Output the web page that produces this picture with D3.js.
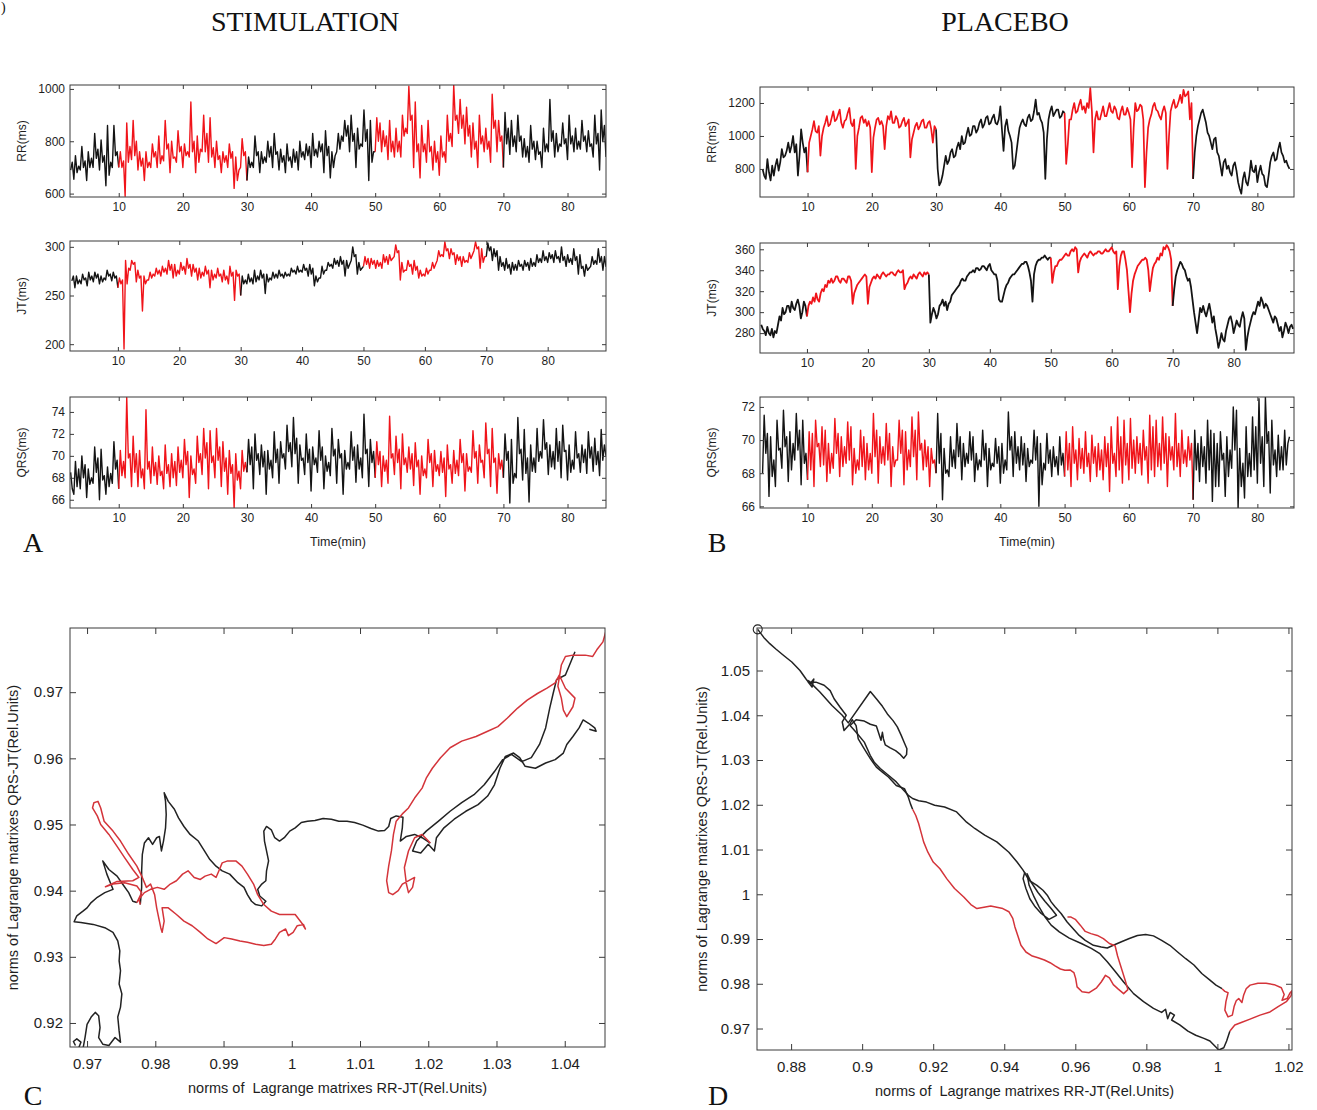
<!DOCTYPE html>
<html>
<head>
<meta charset="utf-8">
<script src="https://cdn.jsdelivr.net/npm/d3@7"></script>
<style>
  body { margin: 0; background: #fff; }
  svg { display: block; }
  text { white-space: pre; }
</style>
</head>
<body>
<script>
// ---------- data ----------
var redPeriods = [[10, 30], [50, 70]];   // minutes coloured red
var step = 0.25;                         // minutes between samples

// A: stimulation (samples from 2.5 min)
var stimRR = [690,720,
  655,745,680,705, 690,780,700,725, 650,760,700,735, 700,830,735,770, 690,805,720,745,
  630,860,670,720, 700,860,745,760, 700,760,700,725, 590,870,720,780, 730,880,745,800,
  690,760,705,735, 650,760,700,720, 700,790,740,760, 700,820,715,745, 725,880,770,790,
  680,800,735,740, 720,840,760,780, 700,790,745,760, 740,950,760,800, 680,820,720,770,
  760,900,760,830, 720,890,740,775, 700,800,730,745, 680,760,720,745, 700,790,735,760,
  620,740,650,690, 700,810,745,760, 650,740,700,720, 700,820,745,760, 680,760,715,740,
  720,800,740,780, 700,830,750,760, 690,770,720,745, 680,790,725,740, 700,770,720,760,
  690,800,740,760, 730,790,745,780, 700,830,745,770, 740,800,760,790, 680,840,745,780,
  660,760,700,745, 760,830,770,820, 800,880,820,860, 760,900,800,830, 700,850,770,790,
  780,920,800,845, 650,880,720,760, 760,890,800,870, 760,840,780,820, 730,880,760,800,
  740,850,760,800, 740,900,820,850, 830,1010,880,900, 700,950,760,790, 660,860,760,790,
  720,880,760,780, 690,800,720,760, 670,820,740,760, 720,900,800,830, 780,1015,880,900,
  830,960,850,900, 790,930,820,860, 740,870,770,800, 700,900,790,820, 760,850,770,800,
  720,980,850,880, 760,880,800,820, 700,910,790,850, 750,880,780,820, 760,900,800,820,
  740,810,740,780, 720,860,770,800, 730,800,750,760, 700,850,760,790, 760,960,800,840,
  740,830,760,790, 780,870,790,810, 730,900,790,820, 760,850,770,800, 770,880,800,820,
  760,840,780,790, 740,900,790,830, 690,920,800,860, 740];
var stimJT = [265,270,
  258,270,262,266, 262,272,266,268, 260,274,266,270, 264,274,268,272, 262,270,264,268,
  266,276,270,272, 265,274,268,270, 258,268,262,266, 195,286,262,278, 276,286,282,284,
  264,276,268,270, 234,270,262,266, 266,274,268,272, 270,278,272,276, 270,280,274,278,
  272,286,276,282, 268,282,270,276, 272,284,276,280, 272,288,278,282, 270,282,274,278,
  266,278,268,274, 270,280,272,276, 258,276,266,272, 268,278,270,272, 264,276,266,270,
  262,280,270,274, 245,276,270,272, 250,270,262,266, 262,272,264,268, 262,276,264,270,
  266,276,268,272, 252,272,264,268, 266,274,268,272, 268,276,270,272, 268,274,270,272,
  270,278,274,276, 272,280,274,276, 274,282,276,278, 270,282,272,278, 260,270,264,268,
  268,280,272,276, 276,284,280,282, 278,288,282,286, 280,290,282,286, 270,286,278,282,
  286,300,290,292, 272,284,276,278, 280,290,282,288, 278,288,282,286, 278,286,280,284,
  278,292,284,290, 282,292,286,288, 290,302,294,296, 266,284,274,276, 276,286,280,282,
  272,286,276,280, 268,276,270,272, 270,278,272,276, 276,284,278,282, 286,296,290,292,
  290,305,296,298, 288,298,292,294, 282,292,286,290, 280,290,284,286, 284,294,288,292,
  296,305,298,300, 278,298,284,290, 290,304,296,300, 286,298,290,296, 276,290,280,284,
  276,288,278,282, 272,284,276,282, 276,286,280,282, 276,286,280,284, 276,288,280,284,
  280,292,284,288, 284,296,286,290, 284,294,288,292, 284,296,288,290, 284,300,286,290,
  280,292,284,288, 282,298,286,290, 272,292,278,280, 270,282,276,278, 280,290,282,286,
  282,298,284,290, 276,290,280,284];
var stimQRS = [68.5,67,
  66.5,69.5,67.2,68.8, 67,70,68,69.2, 66.2,68.8,67.4,68, 67.5,70.8,68.5,69.8, 66,70.6,67.8,68.2,
  66.5,69,67.2,68.4, 67.5,71.3,68.8,69.6, 67,70.5,68.2,69.5, 68,75.3,69.8,70.2, 67.2,71.8,68.5,70.2,
  67.2,70.5,68,68.8, 67,74.2,68.8,69.5, 67.5,70.8,68.2,69.4, 67.4,70,68.2,68.6, 67,71,68.4,69.2,
  67.2,70.2,68,69.5, 67.3,70.8,68.5,69.6, 68,71.5,69.2,70.4, 66.2,70,68.3,68.8, 67.5,71.8,69.4,70.2,
  68.3,72.5,69.8,71.2, 67,72.3,69.4,70, 68,72.5,69.6,70.8, 67.2,71.3,68.6,69.8, 66.5,70.5,68.4,69.2,
  65.3,70.2,67.8,68.6, 67,70.5,68.6,69.4, 68.5,71.5,69.2,70.8, 67,72,69.6,70.2, 68.3,71,69,70.4,
  66.5,70.5,68.8,69.6, 68,72.2,69.4,70.6, 67.5,71.3,69.8,70.2, 68.8,72.8,70.4,71.2, 69,73.5,70.2,71.6,
  67.5,71,69.6,69.8, 68.3,72,69.4,70.6, 66.8,70.8,69.2,69.8, 68.5,72.3,69.6,70.8, 67,70,68.6,69.4,
  68.2,72.5,70,70.6, 67.5,71.5,69.8,70.2, 66.5,70.5,68.8,69.4, 68.8,72.2,69.6,70.8, 67.6,71,68.8,69.8,
  68,73.8,70.2,70.6, 67.2,71.5,69.4,70.4, 68,71.3,69.2,70.4, 67.2,70,68.6,69.6, 67.5,73.6,69.8,70.2,
  68.3,71.8,69.4,70.6, 67,72,69.2,69.8, 68.5,70.8,68.8,70.2, 67.3,71.2,69,69.6, 66.5,70,68.2,68.8,
  68,71.5,69.4,70.2, 67.2,70.5,68.6,69.2, 68.2,70.4,68.5,69.8, 66.3,71,68.8,69.2, 67.5,70.5,68.4,69.6,
  68.2,71.5,69.4,70.2, 66.8,70.2,68.6,69, 68.5,72.3,69.8,70.4, 67.5,71,69.4,69.6, 68,73,70.2,70.6,
  67.2,72.5,69.4,69.8, 66.6,70.2,68.8,69.6, 68,72,69.6,70.4, 65.7,71.5,67.5,68.4, 68,73.5,70.2,70.6,
  67.8,72.4,68.4,69.8, 65.8,71,68.6,69.8, 68.5,72.5,69.5,70.4, 69.8,73.3,70.6,71.2, 68.3,71,69,70.4,
  68.8,72.5,69.5,71.3, 68,72.8,70.4,70.5, 67.8,71,68.5,69.6, 68.8,72.2,69.8,70.2, 68.5,71,69.4,70.6,
  68.4,72.2,69.8,70.8, 68.6,71.6,69.2,70.4, 68.2,72.4,69.6,71, 70];

// B: placebo (RR and QRS from 3 min, JT from 2.5 min)
var placRR = [800,760,740,860, 780,730,820,760, 820,860,790,840, 920,870,880,910, 960,900,940,1000,
  900,950,760,880, 1040,960,900,930, 780,960,1000,1040, 1090,1030,1020,1060, 880,1000,1050,1080,
  1120,1060,1070,1110, 1150,1090,1100,1130, 1160,1080,1050,1090, 1100,1140,1170,1080, 1060,1100,800,1000,
  1050,1110,1120,1080, 1100,1060,1090,1050, 780,990,1050,1100, 1110,1070,1090,1060, 920,1060,1120,1100,
  1150,1080,1080,1120, 1100,1050,1060,1090, 1110,1060,1080,1100, 870,980,1020,1060, 1080,1040,1060,1090,
  1100,1050,1050,1080, 1090,1040,960,1060, 1040,800,700,720, 760,820,880,830, 850,900,920,870,
  880,930,960,920, 1000,950,960,1010, 1050,1000,1010,1060, 1060,1020,1040,1080, 1100,1050,1070,1110,
  1120,1070,1080,1110, 1130,1080,1070,1100, 1180,1040,910,1060, 1100,1030,1000,960, 800,820,900,980,
  1050,1080,1100,1070, 1060,1110,1130,1090, 1100,1150,1220,1130, 1140,1100,1080,1020, 740,980,1100,1150,
  1180,1120,1140,1160, 1160,1110,1120,1150, 1140,830,950,1100, 1100,1160,1200,1140, 1150,1190,1220,1160,
  1180,1140,1200,1170, 1290,1150,900,1100, 1150,1100,1100,1140, 1180,1120,1120,1160, 1200,1150,1140,1180,
  1160,1110,1100,1150, 1180,1130,1130,1170, 1140,1100,810,1050, 1200,1150,1160,1190, 1180,1100,690,900,
  1050,1100,1130,1180, 1200,1160,1150,1120, 1100,1150,1180,1140, 800,1000,1150,1190, 1220,1170,1180,1210,
  1250,1200,1280,1240, 1250,1270,1100,1200, 740,900,1000,1060, 1100,1140,1160,1120, 1080,1020,1000,960,
  920,980,990,900, 880,820,760,840, 860,800,820,780, 760,820,840,790, 720,680,650,740,
  780,720,700,760, 850,790,780,820, 720,780,820,770, 760,700,690,760, 840,880,900,850,
  860,920,960,900, 880,840,850,820, 800];
var placJT = [288,284,
  282,278,286,280, 278,284,276,282, 280,288,296,292, 304,298,300,306, 306,300,310,304,
  302,308,312,306, 294,300,310,306, 296,306,310,308, 314,310,318,312, 310,318,322,320,
  326,324,330,328, 332,328,330,334, 334,330,328,332, 332,330,328,334, 334,330,308,318,
  322,326,328,330, 332,334,336,334, 308,324,328,332, 334,332,336,334, 332,336,338,336,
  334,336,336,338, 338,336,335,338, 340,338,338,340, 322,326,328,332, 334,332,336,334,
  332,336,338,336, 334,338,336,338, 336,290,298,304, 300,294,298,306, 308,312,306,310,
  302,308,310,316, 318,320,322,324, 326,330,332,330, 330,334,336,338, 338,340,338,342,
  342,340,341,344, 344,342,340,344, 346,340,338,336, 336,330,312,310, 310,316,322,326,
  328,332,334,336, 336,338,340,342, 344,346,346,348, 348,344,338,330, 310,336,344,348,
  350,350,352,352, 354,352,350,352, 352,328,338,344, 344,348,350,350, 352,354,356,354,
  354,358,360,358, 362,360,338,348, 352,354,356,354, 352,356,358,356, 354,356,356,358,
  358,356,356,358, 360,358,358,360, 362,358,356,358, 322,344,354,358, 358,350,340,320,
  300,318,330,336, 340,344,346,348, 350,350,352,350, 340,320,332,342, 346,348,352,350,
  356,354,362,360, 364,362,358,350, 306,322,334,340, 344,348,346,342, 340,334,330,332,
  324,312,300,290, 280,292,304,300, 306,300,296,302, 308,300,290,296, 284,276,266,272,
  280,274,272,282, 288,294,296,290, 280,286,292,288, 286,294,300,294, 264,276,284,290,
  296,300,298,304, 310,306,314,310, 304,308,306,302, 298,294,290,296, 294,288,282,286,
  276,282,290,286, 280,286,288,284];
var placQRS = [68,71.5,69.2,70.4, 66.6,70.2,67.8,68.8, 67.2,71.2,69.4,69.5, 68.3,71.8,69.6,70.2, 67.5,70.5,68.2,69.8,
  68.8,71.6,69.4,70.6, 67.3,71.2,68.6,69.2, 67.6,70.5,68.2,70.4, 67.2,71.2,69.6,69.8, 68.4,70.8,68.5,70.6,
  67.5,69.8,68,69.2, 68.3,71.3,69.2,70.4, 67.8,70.2,68.4,69.6, 68.6,71.1,68.8,70.8, 67.3,69.5,68,68.8,
  68.2,70.6,68.4,70.2, 67.6,69.8,68.2,69.2, 68,71.6,69,70.6, 67.4,70.2,68.6,69.6, 68.5,71,68.8,70.4,
  67.2,69.6,68.4,68.8, 68.8,71.2,69.2,70.6, 67.3,70.5,68.2,69.4, 68.4,71.4,69,70.6, 67.6,71.7,69.4,69.8,
  68.2,70,68.4,69.6, 67.2,69.5,68.6,68.8, 68,71.6,68.6,70.4, 66.4,69.5,68,68.2, 67.8,70.2,68.4,69.4,
  68.3,71,69,70.2, 67.6,69.8,68.4,69.2, 68.6,70.5,68.8,70.2, 67.5,69.2,68.2,68.8, 68.4,70.6,68.8,69.8,
  67.2,69.5,68.2,68.6, 68.4,70.1,68.6,69.6, 67.4,69.8,68,68.8, 68.2,71.7,69.4,70.2, 67.8,70.5,68.6,69.6,
  68.2,70.2,68.5,69.8, 67.5,69.5,68.4,68.8, 68.6,70.6,68.8,70.2, 66,69.8,67.3,68.6, 68.2,70.4,68.6,69.4,
  67.8,69.6,68.4,69, 67.9,70.2,68.5,69.2, 67.8,70.5,68.2,69.8, 67.2,70.8,68.6,69.4, 67.6,70.1,68.3,69.5,
  68,70.5,68.4,69.2, 67.5,70.3,68.6,69.6, 67.8,69.8,68.2,69.4, 67.6,70.2,68.4,69.8, 66.9,70.8,68.6,69.2,
  67.8,71.4,68.2,70.2, 67.4,71.2,68.5,69.8, 67.6,71.3,68.3,70, 68,70.2,68.6,69.8, 67.9,70.6,68.8,69.6,
  67.4,71.5,68.2,70.8, 67.8,71.2,68.4,69.8, 68.2,71.4,68.6,70.4, 67.2,70.2,68.8,69.6, 68.2,71.6,68.4,69.8,
  67.8,70.6,68.6,69.4, 68.4,70.2,68.8,69.8, 66.4,70.6,68.2,69.8, 67.5,70.2,68.4,69.6, 67.4,71.2,68.2,70.6,
  66.3,70.4,67.2,69.8, 67.2,70.5,68.8,69.2, 66.6,70.2,67.8,69.4, 68.3,72,69.4,71.8, 65.9,69.5,67.2,68.6,
  66.5,70.8,67.8,69.2, 67.8,71.4,68.2,70.8, 67.4,72.5,68.6,70.2, 67.2,72.6,69.8,70.5, 66.8,71.2,68.5,69.4,
  67.8,70.3,68.2,69.6, 68.2,70.6,68.5,69.8, 70.2];

var seriesStart = { stimRR: 2.5, stimJT: 2.5, stimQRS: 2.5, placRR: 3, placJT: 2.5, placQRS: 3 };

// tick values
var timeTicks = [10, 20, 30, 40, 50, 60, 70, 80];
var stimRRTicks = [600, 800, 1000], stimJTTicks = [200, 250, 300], stimQRSTicks = [66, 68, 70, 72, 74];
var placRRTicks = [800, 1000, 1200], placJTTicks = [280, 300, 320, 340, 360], placQRSTicks = [66, 68, 70, 72];
var cXTicks = [0.97, 0.98, 0.99, 1, 1.01, 1.02, 1.03, 1.04], cYTicks = [0.92, 0.93, 0.94, 0.95, 0.96, 0.97];
var dXTicks = [0.88, 0.9, 0.92, 0.94, 0.96, 0.98, 1, 1.02], dYTicks = [0.97, 0.98, 0.99, 1, 1.01, 1.02, 1.03, 1.04, 1.05];

// C: stimulation trajectory [RR-JT norm, QRS-JT norm]
var cBlack1 = [[0.9683,0.9166],[0.9680,0.9172],[0.9685,0.9176],[0.9691,0.9171],[0.9688,0.9163],[0.9694,0.9161],[0.9697,0.9178],[0.9700,0.9198],[0.9706,0.9209],[0.9712,0.9216],[0.9717,0.9211],[0.9719,0.9193],[0.9717,0.9178],[0.9723,0.9168],[0.9732,0.9166],[0.9741,0.9178],[0.9749,0.9171],[0.9747,0.9188],[0.9745,0.9209],[0.9749,0.9224],[0.9751,0.9244],[0.9747,0.9259],[0.9749,0.9279],[0.9747,0.9294],[0.9748,0.9309],[0.9745,0.9324],[0.9738,0.9337],[0.9726,0.9344],[0.9709,0.9349],[0.9691,0.9352],[0.9681,0.9353],[0.9685,0.9362],[0.9694,0.9369],[0.9700,0.9374],[0.9706,0.9382],[0.9715,0.9390],[0.9726,0.9397],[0.9738,0.9402],[0.9729,0.9425],[0.9723,0.9445],[0.9732,0.9432],[0.9744,0.9422],[0.9752,0.9410],[0.9761,0.9397],[0.9767,0.9384],[0.9773,0.9382]];
var cRed1 = [[0.9773,0.9382],[0.9780,0.9397],[0.9773,0.9407],[0.9755,0.9412],[0.9738,0.9410],[0.9727,0.9406],[0.9744,0.9414],[0.9767,0.9415],[0.9776,0.9420],[0.9767,0.9432],[0.9755,0.9450],[0.9744,0.9467],[0.9732,0.9485],[0.9720,0.9500],[0.9715,0.9513],[0.9708,0.9525],[0.9710,0.9533],[0.9716,0.9535],[0.9720,0.9525],[0.9725,0.9505],[0.9738,0.9490],[0.9749,0.9475],[0.9761,0.9455],[0.9773,0.9437],[0.9781,0.9420],[0.9787,0.9405],[0.9793,0.9410],[0.9799,0.9394],[0.9802,0.9374],[0.9805,0.9359],[0.9808,0.9344],[0.9810,0.9337],[0.9813,0.9354],[0.9810,0.9374],[0.9819,0.9374],[0.9831,0.9364],[0.9842,0.9354],[0.9854,0.9347],[0.9866,0.9337],[0.9877,0.9327],[0.9889,0.9320],[0.9901,0.9329],[0.9912,0.9327],[0.9924,0.9324],[0.9935,0.9322],[0.9947,0.9319],[0.9959,0.9317],[0.9970,0.9319],[0.9976,0.9327],[0.9982,0.9337],[0.9991,0.9342],[0.9995,0.9332],[1.0002,0.9337],[1.0008,0.9347],[1.0017,0.9349],[1.0020,0.9342],[1.0014,0.9352],[1.0005,0.9364],[0.9994,0.9364],[0.9982,0.9364],[0.9970,0.9369],[0.9959,0.9379],[0.9950,0.9394],[0.9944,0.9410],[0.9935,0.9425],[0.9927,0.9437],[0.9918,0.9445],[0.9906,0.9445],[0.9898,0.9442],[0.9894,0.9432],[0.9889,0.9420],[0.9882,0.9425],[0.9873,0.9422],[0.9866,0.9417],[0.9857,0.9420],[0.9848,0.9430],[0.9840,0.9425],[0.9831,0.9415],[0.9822,0.9410],[0.9813,0.9402],[0.9803,0.9405],[0.9793,0.9402],[0.9784,0.9397],[0.9776,0.9387],[0.9778,0.9379]];
var cBlack2 = [[0.9778,0.9379],[0.9780,0.9405],[0.9780,0.9430],[0.9781,0.9455],[0.9784,0.9472],[0.9790,0.9480],[0.9796,0.9470],[0.9802,0.9480],[0.9806,0.9482],[0.9809,0.9460],[0.9812,0.9475],[0.9815,0.9495],[0.9816,0.9515],[0.9815,0.9535],[0.9813,0.9548],[0.9819,0.9535],[0.9828,0.9523],[0.9834,0.9510],[0.9842,0.9497],[0.9851,0.9485],[0.9863,0.9475],[0.9872,0.9460],[0.9880,0.9447],[0.9889,0.9437],[0.9898,0.9430],[0.9909,0.9425],[0.9921,0.9412],[0.9930,0.9405],[0.9935,0.9394],[0.9941,0.9384],[0.9947,0.9379],[0.9956,0.9377],[0.9962,0.9384],[0.9953,0.9392],[0.9950,0.9402],[0.9956,0.9410],[0.9962,0.9415],[0.9963,0.9430],[0.9966,0.9445],[0.9963,0.9460],[0.9960,0.9475],[0.9959,0.9490],[0.9963,0.9497],[0.9970,0.9492],[0.9975,0.9480],[0.9982,0.9475],[0.9989,0.9480],[0.9997,0.9490],[1.0005,0.9495],[1.0014,0.9503],[1.0023,0.9505],[1.0034,0.9506],[1.0046,0.9509],[1.0058,0.9508],[1.0069,0.9505],[1.0081,0.9505],[1.0092,0.9503],[1.0104,0.9499],[1.0116,0.9494],[1.0127,0.9490],[1.0136,0.9491],[1.0142,0.9497],[1.0145,0.9509],[1.0153,0.9513],[1.0163,0.9511],[1.0162,0.9495],[1.0159,0.9475],[1.0168,0.9482],[1.0180,0.9485],[1.0191,0.9480],[1.0203,0.9472]];
var cRed2 = [[1.0203,0.9472],[1.0191,0.9485],[1.0180,0.9480],[1.0171,0.9460],[1.0165,0.9435],[1.0168,0.9410],[1.0171,0.9397],[1.0177,0.9405],[1.0180,0.9420],[1.0162,0.9410],[1.0156,0.9400],[1.0148,0.9394],[1.0142,0.9397],[1.0139,0.9415],[1.0142,0.9437],[1.0146,0.9460],[1.0149,0.9485],[1.0153,0.9505],[1.0162,0.9516],[1.0171,0.9525],[1.0180,0.9540],[1.0191,0.9555],[1.0197,0.9570],[1.0206,0.9585],[1.0218,0.9601],[1.0232,0.9616],[1.0249,0.9626],[1.0270,0.9633],[1.0287,0.9641],[1.0302,0.9648],[1.0316,0.9661],[1.0331,0.9676],[1.0345,0.9688],[1.0360,0.9698],[1.0374,0.9706],[1.0386,0.9714],[1.0392,0.9726],[1.0401,0.9706],[1.0415,0.9691],[1.0412,0.9678],[1.0403,0.9663],[1.0398,0.9673],[1.0395,0.9691],[1.0390,0.9709],[1.0395,0.9741],[1.0401,0.9754],[1.0412,0.9756],[1.0430,0.9756],[1.0441,0.9754],[1.0447,0.9764],[1.0456,0.9776],[1.0460,0.9791]];
var cBlack3 = [[1.0415,0.9761],[1.0409,0.9746],[1.0401,0.9726],[1.0388,0.9719],[1.0383,0.9698],[1.0378,0.9676],[1.0372,0.9646],[1.0363,0.9621],[1.0351,0.9601],[1.0337,0.9595],[1.0322,0.9606],[1.0309,0.9598],[1.0297,0.9580],[1.0282,0.9560],[1.0267,0.9545],[1.0249,0.9533],[1.0232,0.9520],[1.0215,0.9505],[1.0197,0.9490],[1.0183,0.9475],[1.0177,0.9460],[1.0189,0.9457],[1.0200,0.9470],[1.0209,0.9460],[1.0212,0.9480],[1.0223,0.9495],[1.0238,0.9508],[1.0255,0.9520],[1.0273,0.9530],[1.0287,0.9543],[1.0297,0.9560],[1.0305,0.9585],[1.0313,0.9603],[1.0325,0.9608],[1.0334,0.9601],[1.0342,0.9588],[1.0357,0.9585],[1.0372,0.9593],[1.0386,0.9598],[1.0398,0.9608],[1.0403,0.9621],[1.0412,0.9633],[1.0421,0.9646],[1.0427,0.9658],[1.0435,0.9653],[1.0444,0.9646],[1.0446,0.9641],[1.0436,0.9644]];

// D: placebo trajectory
var dBlack1 = [[0.8706,1.0592],[0.8723,1.0574],[0.8740,1.0560],[0.8757,1.0548],[0.8780,1.0533],[0.8802,1.0519],[0.8825,1.0500],[0.8842,1.0481],[0.8853,1.0470],[0.8864,1.0481],[0.8859,1.0463],[0.8848,1.0474],[0.8870,1.0474],[0.8893,1.0467],[0.8910,1.0455],[0.8921,1.0437],[0.8938,1.0418],[0.8955,1.0400],[0.8944,1.0385],[0.8949,1.0366],[0.8966,1.0381],[0.8972,1.0390],[0.8983,1.0377],[0.8989,1.0347],[0.9006,1.0325],[0.9023,1.0303],[0.9040,1.0284],[0.9057,1.0273],[0.9074,1.0262],[0.9096,1.0243],[0.9119,1.0236],[0.9130,1.0217],[0.9136,1.0202],[0.9142,1.0190]];
var dBlack2 = [[0.8848,1.0478],[0.8881,1.0452],[0.8915,1.0422],[0.8944,1.0400],[0.8961,1.0383],[0.9023,1.0453],[0.9040,1.0437],[0.9057,1.0420],[0.9071,1.0403],[0.9087,1.0388],[0.9099,1.0374],[0.9110,1.0355],[0.9119,1.0338],[0.9126,1.0325],[0.9125,1.0312],[0.9117,1.0304],[0.9108,1.0312],[0.9094,1.0321],[0.9079,1.0327],[0.9065,1.0334],[0.9060,1.0347],[0.9057,1.0362],[0.9053,1.0344],[0.9040,1.0376],[0.9023,1.0380],[0.9006,1.0387],[0.8983,1.0390],[0.8966,1.0377],[0.8983,1.0362],[0.9006,1.0340],[0.9023,1.0310],[0.9034,1.0295],[0.9051,1.0281],[0.9074,1.0266],[0.9096,1.0251],[0.9113,1.0236],[0.9130,1.0221],[0.9142,1.0214],[0.9159,1.0209],[0.9181,1.0206],[0.9204,1.0199],[0.9232,1.0195],[0.9266,1.0184],[0.9294,1.0161],[0.9317,1.0147],[0.9345,1.0132],[0.9379,1.0117],[0.9413,1.0094],[0.9436,1.0072],[0.9453,1.0054],[0.9470,1.0031],[0.9492,1.0020],[0.9509,1.0009],[0.9521,0.9998],[0.9532,0.9983],[0.9543,0.9972],[0.9560,0.9957],[0.9577,0.9938],[0.9594,0.9923],[0.9611,0.9908],[0.9628,0.9897],[0.9651,0.9886],[0.9673,0.9882],[0.9690,0.9880],[0.9707,0.9886],[0.9730,0.9894],[0.9752,0.9901],[0.9775,0.9908],[0.9798,0.9910],[0.9820,0.9907],[0.9843,0.9897],[0.9866,0.9886],[0.9888,0.9871],[0.9911,0.9856],[0.9934,0.9842],[0.9956,0.9823],[0.9979,0.9808],[0.9996,0.9797],[1.0013,0.9789]];
var dBlack3 = [[0.9458,1.0050],[0.9453,1.0035],[0.9461,1.0013],[0.9472,0.9990],[0.9487,0.9972],[0.9504,0.9957],[0.9526,0.9944],[0.9547,0.9953],[0.9532,0.9968],[0.9515,0.9984],[0.9495,1.0004],[0.9475,1.0028],[0.9464,1.0046],[0.9470,1.0020],[0.9484,0.9994],[0.9498,0.9972],[0.9515,0.9949],[0.9532,0.9931],[0.9555,0.9916],[0.9583,0.9902],[0.9617,0.9890],[0.9645,0.9879],[0.9668,0.9868],[0.9690,0.9849],[0.9713,0.9827],[0.9736,0.9804],[0.9764,0.9778],[0.9792,0.9760],[0.9820,0.9745],[0.9843,0.9736],[0.9854,0.9743],[0.9860,0.9722],[0.9867,0.9736],[0.9879,0.9730],[0.9871,0.9719],[0.9894,0.9708],[0.9917,0.9694],[0.9939,0.9685],[0.9962,0.9678],[0.9979,0.9672],[0.9990,0.9663],[1.0004,0.9652],[1.0018,0.9657],[1.0026,0.9672],[1.0035,0.9694]];
var dRed1 = [[0.9142,1.0190],[0.9151,1.0176],[0.9159,1.0158],[0.9167,1.0135],[0.9173,1.0117],[0.9185,1.0094],[0.9200,1.0072],[0.9219,1.0057],[0.9238,1.0035],[0.9260,1.0013],[0.9286,0.9994],[0.9306,0.9977],[0.9323,0.9968],[0.9343,0.9971],[0.9362,0.9974],[0.9379,0.9971],[0.9396,0.9968],[0.9413,0.9961],[0.9424,0.9946],[0.9430,0.9927],[0.9438,0.9908],[0.9447,0.9886],[0.9461,0.9871],[0.9479,0.9862],[0.9495,0.9858],[0.9513,0.9853],[0.9529,0.9847],[0.9543,0.9840],[0.9558,0.9833],[0.9571,0.9830],[0.9585,0.9831],[0.9596,0.9825],[0.9601,0.9812],[0.9605,0.9793],[0.9619,0.9782],[0.9639,0.9780],[0.9660,0.9791],[0.9673,0.9804],[0.9685,0.9819],[0.9696,0.9813],[0.9707,0.9798],[0.9721,0.9788],[0.9736,0.9778],[0.9748,0.9787],[0.9741,0.9806],[0.9730,0.9834],[0.9719,0.9862],[0.9712,0.9885],[0.9696,0.9890],[0.9679,0.9901],[0.9662,0.9908],[0.9644,0.9912],[0.9628,0.9917],[0.9614,0.9931],[0.9600,0.9944],[0.9588,0.9949],[0.9578,0.9949]];
var dRed2 = [[1.0013,0.9789],[1.0021,0.9783],[1.0030,0.9780],[1.0024,0.9760],[1.0021,0.9741],[1.0030,0.9726],[1.0042,0.9730],[1.0047,0.9749],[1.0053,0.9762],[1.0060,0.9767],[1.0069,0.9758],[1.0074,0.9775],[1.0081,0.9789],[1.0092,0.9797],[1.0114,0.9801],[1.0137,0.9801],[1.0160,0.9798],[1.0180,0.9791],[1.0188,0.9776],[1.0182,0.9763],[1.0196,0.9767],[1.0205,0.9780],[1.0212,0.9786],[1.0207,0.9773],[1.0194,0.9760],[1.0171,0.9749],[1.0148,0.9737],[1.0120,0.9730],[1.0092,0.9721],[1.0069,0.9714],[1.0049,0.9708],[1.0037,0.9696],[1.0035,0.9694]];

// ---------- drawing ----------
var RED_TS = '#f0141a', RED_TR = '#d4343a', INK = '#141414', TRAJ_INK = '#222', AXIS = '#3a3a3a';
var sansFont = '"Liberation Sans", Arial, sans-serif';
var serifFont = '"Liberation Serif", "Times New Roman", serif';

var svg = d3.select('body').append('svg')
    .attr('width', 1317)
    .attr('height', 1110);

var clipCount = 0;
function fmt(d) { return String(+d.toFixed(2)); }

function panel(o) {
    var g = svg.append('g').attr('transform', 'translate(' + o.x + ',' + o.y + ')');
    var xs = d3.scaleLinear().domain(o.xd).range([0, o.w]);
    var ys = d3.scaleLinear().domain(o.yd).range([o.h, 0]);
    var id = 'clip' + (clipCount++);
    g.append('clipPath').attr('id', id).append('rect').attr('width', o.w).attr('height', o.h);
    var plot = g.append('g').attr('clip-path', 'url(#' + id + ')');

    var L = o.tick, P = o.pad, PX = o.padX || o.pad;
    var axes = [
        g.append('g').attr('transform', 'translate(0,' + o.h + ')')
            .call(d3.axisBottom(xs).tickValues(o.xt).tickSizeInner(-L).tickSizeOuter(0).tickPadding(PX).tickFormat(fmt)),
        g.append('g')
            .call(d3.axisTop(xs).tickValues(o.xt).tickSizeInner(-L).tickSizeOuter(0).tickFormat('')),
        g.append('g')
            .call(d3.axisLeft(ys).tickValues(o.yt).tickSizeInner(-L).tickSizeOuter(0).tickPadding(P).tickFormat(fmt)),
        g.append('g').attr('transform', 'translate(' + o.w + ',0)')
            .call(d3.axisRight(ys).tickValues(o.yt).tickSizeInner(-L).tickSizeOuter(0).tickFormat(''))
    ];
    axes.forEach(function (a) {
        a.select('.domain').remove();
        a.selectAll('line').attr('stroke', AXIS);
        a.selectAll('text').attr('font-family', sansFont).attr('font-size', o.font).attr('fill', '#1e1e1e');
    });
    g.append('rect').attr('width', o.w).attr('height', o.h)
        .attr('fill', 'none').attr('stroke', AXIS).attr('stroke-width', 1);
    return { g: g, plot: plot, xs: xs, ys: ys };
}

// split a sampled series into black / red runs that share their end points
function colouredRuns(vals, t0) {
    var runs = [], cur = null;
    for (var i = 0; i < vals.length - 1; i++) {
        var ta = t0 + i * step, tb = t0 + (i + 1) * step, mid = (ta + tb) / 2;
        var red = redPeriods.some(function (p) { return mid > p[0] && mid < p[1]; });
        if (!cur || cur.red !== red) { cur = { red: red, pts: [[ta, vals[i]]] }; runs.push(cur); }
        cur.pts.push([tb, vals[i + 1]]);
    }
    return runs;
}

function timeSeries(o, vals, t0, ylabel, withTimeLabel) {
    var p = panel(o);
    var line = d3.line().x(function (d) { return p.xs(d[0]); }).y(function (d) { return p.ys(d[1]); });
    p.plot.selectAll('path.run').data(colouredRuns(vals, t0)).enter().append('path')
        .attr('class', 'run')
        .attr('d', function (r) { return line(r.pts); })
        .attr('fill', 'none')
        .attr('stroke', function (r) { return r.red ? RED_TS : INK; })
        .attr('stroke-width', o.lw || 1.4)
        .attr('stroke-linejoin', 'round');
    p.g.append('text')
        .attr('transform', 'translate(' + (-44) + ',' + (o.h / 2) + ') rotate(-90)')
        .attr('text-anchor', 'middle')
        .attr('font-family', sansFont).attr('font-size', 12).attr('fill', '#1e1e1e')
        .text(ylabel);
    if (withTimeLabel) {
        p.g.append('text')
            .attr('x', o.w / 2).attr('y', o.h + 38)
            .attr('text-anchor', 'middle')
            .attr('font-family', sansFont).attr('font-size', 12.5).attr('fill', '#1e1e1e')
            .text('Time(min)');
    }
}

function trajectory(o, blacks, reds, marker) {
    var p = panel(o);
    var line = d3.line().x(function (d) { return p.xs(d[0]); }).y(function (d) { return p.ys(d[1]); });
    blacks.forEach(function (b) {
        p.plot.append('path').attr('d', line(b)).attr('fill', 'none')
            .attr('stroke', TRAJ_INK).attr('stroke-width', 1.5).attr('stroke-linejoin', 'round');
    });
    reds.forEach(function (r) {
        p.plot.append('path').attr('d', line(r)).attr('fill', 'none')
            .attr('stroke', RED_TR).attr('stroke-width', 1.5).attr('stroke-linejoin', 'round');
    });
    if (marker) {
        p.g.append('circle').attr('cx', p.xs(marker[0])).attr('cy', p.ys(marker[1])).attr('r', 4.5)
            .attr('fill', 'none').attr('stroke', TRAJ_INK).attr('stroke-width', 1.1);
    }
    p.g.append('text')
        .attr('x', o.w / 2).attr('y', o.h + o.titleDy)
        .attr('text-anchor', 'middle')
        .attr('font-family', sansFont).attr('font-size', 14.5).attr('fill', '#1e1e1e')
        .text('norms of  Lagrange matrixes RR-JT(Rel.Units)');
    p.g.append('text')
        .attr('transform', 'translate(' + o.ylabX + ',' + (o.h / 2) + ') rotate(-90)')
        .attr('text-anchor', 'middle')
        .attr('font-family', sansFont).attr('font-size', 14.5).attr('fill', '#1e1e1e')
        .text('norms of Lagrange matrixes QRS-JT(Rel.Units)');
}

var small = { tick: 4, pad: 5, font: 12 };
function opts(extra) { return Object.assign({}, small, extra); }

// A: stimulation
timeSeries(opts({ x: 70, y: 85, w: 536, h: 112, xd: [2.4, 86], yd: [587, 1015], xt: timeTicks, yt: stimRRTicks }),
    stimRR, seriesStart.stimRR, 'RR(ms)');
timeSeries(opts({ x: 70, y: 241, w: 536, h: 110, xd: [2.2, 89.5], yd: [193, 306], xt: timeTicks, yt: stimJTTicks }),
    stimJT, seriesStart.stimJT, 'JT(ms)');
timeSeries(opts({ x: 70, y: 397, w: 536, h: 111, xd: [2.4, 86], yd: [65.25, 75.36], xt: timeTicks, yt: stimQRSTicks }),
    stimQRS, seriesStart.stimQRS, 'QRS(ms)', true);

// B: placebo
timeSeries(opts({ x: 760, y: 87, w: 534, h: 110, xd: [2.6, 85.7], yd: [630, 1297], xt: timeTicks, yt: placRRTicks, lw: 1.7 }),
    placRR, seriesStart.placRR, 'RR(ms)');
timeSeries(opts({ x: 760, y: 243, w: 534, h: 110, xd: [2.3, 89.9], yd: [261, 366], xt: timeTicks, yt: placJTTicks, lw: 1.8 }),
    placJT, seriesStart.placJT, 'JT(ms)');
timeSeries(opts({ x: 760, y: 397, w: 534, h: 111, xd: [2.6, 85.7], yd: [65.9, 72.6], xt: timeTicks, yt: placQRSTicks }),
    placQRS, seriesStart.placQRS, 'QRS(ms)', true);

// C and D
trajectory({ x: 70, y: 628, w: 535, h: 419, xd: [0.9675, 1.0459], yd: [0.91637, 0.9797],
             xt: cXTicks, yt: cYTicks, tick: 6, pad: 7, padX: 11, font: 15, ylabX: -52, titleDy: 46 },
    [cBlack1, cBlack2, cBlack3], [cRed1, cRed2]);
trajectory({ x: 757, y: 628, w: 535, h: 422, xd: [0.8704, 1.021], yd: [0.9652, 1.0595],
             xt: dXTicks, yt: dYTicks, tick: 6, pad: 7, padX: 11, font: 15, ylabX: -50, titleDy: 46 },
    [dBlack1, dBlack2, dBlack3], [dRed1, dRed2], dBlack1[0]);

// titles and panel letters
function serifText(x, y, size, s) {
    svg.append('text').attr('x', x).attr('y', y).attr('text-anchor', 'middle')
        .attr('font-family', serifFont).attr('font-size', size).attr('fill', '#111').text(s);
}
serifText(305, 31, 28, 'STIMULATION');
serifText(1005, 31, 28, 'PLACEBO');
serifText(33, 552, 28, 'A');
serifText(717, 552, 28, 'B');
serifText(33, 1105, 28, 'C');
serifText(718, 1105, 28, 'D');
svg.append('text').attr('x', 1).attr('y', 12).attr('font-family', serifFont).attr('font-size', 14).attr('fill', '#111').text(')');
</script>
</body>
</html>
